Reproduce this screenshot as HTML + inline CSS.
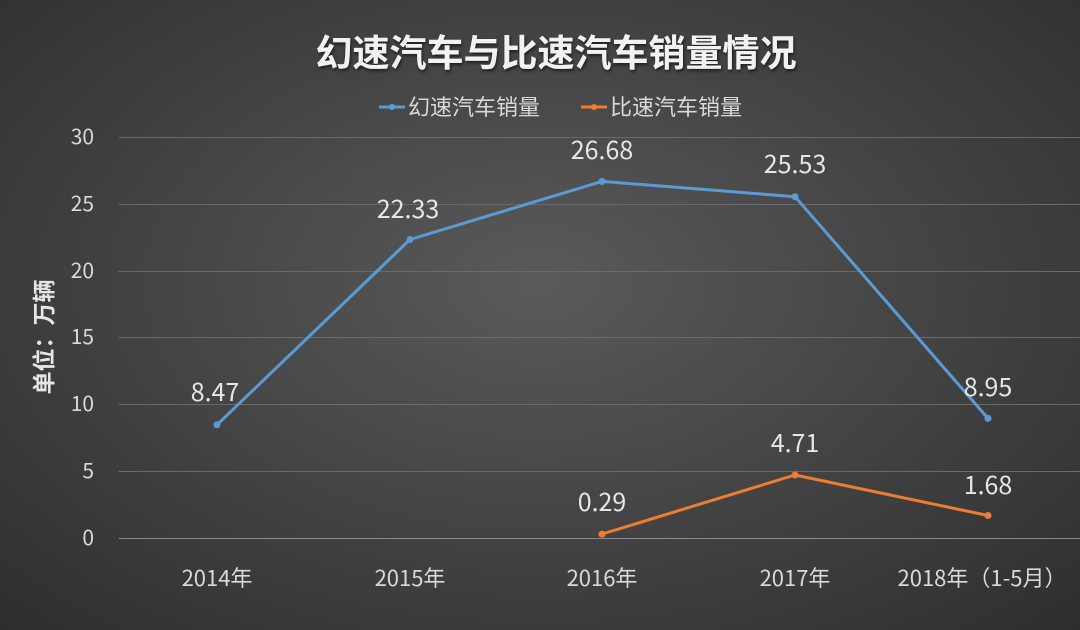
<!DOCTYPE html>
<html><head><meta charset="utf-8"><style>
html,body{margin:0;padding:0;width:1080px;height:630px;overflow:hidden;}
body{background:radial-gradient(ellipse 75% 80% at 50% 45%,#5a5a5a 0%,#454545 45%,#2c2c2c 100%);}
svg{position:absolute;left:0;top:0;}
text{font-family:"Noto Sans CJK SC","Liberation Sans",sans-serif;}
</style></head><body>
<svg width="1080" height="630" viewBox="0 0 1080 630">
<defs><filter id="sh"><feDropShadow dx="1" dy="2" stdDeviation="1.5" flood-color="#000" flood-opacity="0.6"/></filter></defs>
<text x="556" y="66" text-anchor="middle" font-size="37" font-weight="bold" fill="#f2f2f2" filter="url(#sh)">幻速汽车与比速汽车销量情况</text>
<line x1="379" y1="107" x2="405" y2="107" stroke="#5b9bd5" stroke-width="3"/><circle cx="392" cy="107" r="3" fill="#5b9bd5"/>
<text x="408" y="115" font-size="22" fill="#d9d9d9">幻速汽车销量</text>
<line x1="581" y1="107" x2="607" y2="107" stroke="#ed7d31" stroke-width="3"/><circle cx="594" cy="107" r="3" fill="#ed7d31"/>
<text x="610" y="115" font-size="22" fill="#d9d9d9">比速汽车销量</text>
<g stroke="#6a6a6a" stroke-width="1">
<line x1="119" y1="137.5" x2="1080" y2="137.5"/><line x1="119" y1="204.5" x2="1080" y2="204.5"/>
<line x1="119" y1="271.5" x2="1080" y2="271.5"/><line x1="119" y1="337.5" x2="1080" y2="337.5"/>
<line x1="119" y1="404.5" x2="1080" y2="404.5"/><line x1="119" y1="471.5" x2="1080" y2="471.5"/>
</g>
<line x1="119" y1="538.5" x2="1080" y2="538.5" stroke="#8a8a8a"/>
<g font-size="21" fill="#d9d9d9" text-anchor="end">
<text x="94" y="144">30</text><text x="94" y="211">25</text><text x="94" y="278">20</text>
<text x="94" y="344">15</text><text x="94" y="411">10</text><text x="94" y="478">5</text><text x="94" y="545">0</text>
</g>
<text transform="translate(52,337) rotate(-90)" text-anchor="middle" font-size="23" font-weight="bold" fill="#e6e6e6">单位：万辆</text>
<g font-size="22" fill="#d9d9d9" text-anchor="middle">
<text x="217" y="586">2014年</text><text x="410" y="586">2015年</text><text x="602" y="586">2016年</text>
<text x="795" y="586">2017年</text><text x="982" y="586">2018年（1-5月）</text>
</g>
<polyline points="217,424.8 410,239.5 602,181.4 795,196.7 988,418.4" fill="none" stroke="#5b9bd5" stroke-width="3" stroke-linejoin="round"/>
<g fill="#5b9bd5"><circle cx="217" cy="424.8" r="3.5"/><circle cx="410" cy="239.5" r="3.5"/><circle cx="602" cy="181.4" r="3.5"/><circle cx="795" cy="196.7" r="3.5"/><circle cx="988" cy="418.4" r="3.5"/></g>
<polyline points="602,534.1 795,475 988,515.5" fill="none" stroke="#ed7d31" stroke-width="3" stroke-linejoin="round"/>
<g fill="#ed7d31"><circle cx="602" cy="534.1" r="3.5"/><circle cx="795" cy="475" r="3.5"/><circle cx="988" cy="515.5" r="3.5"/></g>
<g font-size="25" fill="#e6e6e6" text-anchor="middle">
<text x="215" y="401">8.47</text><text x="408" y="218">22.33</text><text x="602" y="159">26.68</text>
<text x="795" y="173">25.53</text><text x="988" y="396">8.95</text>
<text x="602" y="511">0.29</text><text x="795" y="452">4.71</text><text x="988" y="494">1.68</text>
</g>
</svg>
</body></html>
